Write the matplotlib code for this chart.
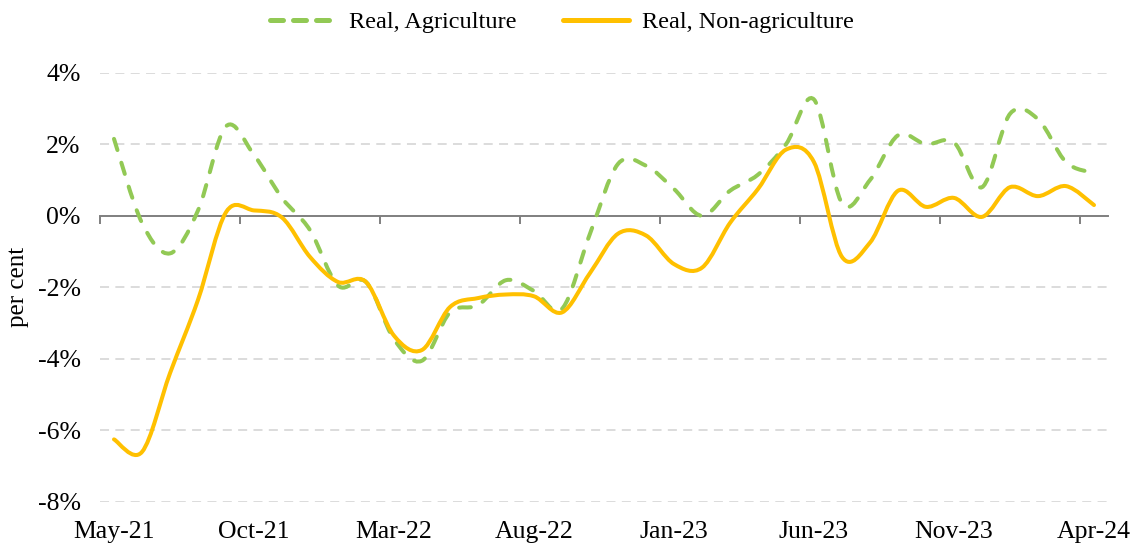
import matplotlib
matplotlib.use("Agg")
import matplotlib.pyplot as plt
import numpy as np
import pandas as pd
from matplotlib.path import Path
from matplotlib.patches import PathPatch
from matplotlib.lines import Line2D

plt.rcParams['font.family'] = ['Liberation Serif', 'DejaVu Serif']

# monthly data, May-21 .. Apr-24 (per cent, y/y)
months = pd.date_range('2021-05-01', periods=36, freq='MS').strftime('%b-%y').tolist()
agri = [2.15, -0.2, -1.05, 0.15, 2.5, 1.7, 0.5, -0.4, -1.95, -1.85,
        -3.45, -4.05, -2.7, -2.5, -1.8, -2.1, -2.6, -0.5, 1.45, 1.4,
        0.75, 0.0, 0.7, 1.15, 2.0, 3.25, 0.35, 1.0, 2.25, 2.0,
        2.05, 0.8, 2.85, 2.7, 1.5, 1.2]
nonagri = [-6.25, -6.6, -4.4, -2.35, 0.1, 0.15, -0.05, -1.15, -1.85, -1.85,
           -3.35, -3.75, -2.55, -2.3, -2.2, -2.25, -2.7, -1.6, -0.5, -0.55,
           -1.35, -1.45, -0.2, 0.75, 1.85, 1.5, -1.15, -0.75, 0.7, 0.25,
           0.5, -0.03, 0.8, 0.55, 0.83, 0.3]
yticks = [4, 2, 0, -2, -4, -6, -8]

GREEN = '#92C955'
GOLD = '#FFC000'
FS_TICK = 18.5
FS_LEG = 17.5


def smooth_path(xs, ys):
    # excel-like smoothed line: cubic bezier between points (catmull-rom)
    p = np.column_stack([xs, ys]).astype(float)
    n = len(p)
    verts = [p[0]]
    codes = [Path.MOVETO]
    for i in range(n - 1):
        p0 = p[i - 1] if i > 0 else p[i]
        p3 = p[i + 2] if i + 2 < n else p[i + 1]
        c1 = p[i] + (p[i + 1] - p0) / 6.0
        c2 = p[i + 1] - (p3 - p[i]) / 6.0
        verts += [c1, c2, p[i + 1]]
        codes += [Path.CURVE4] * 3
    return Path(verts, codes)


x = np.arange(len(months))

fig = plt.figure(figsize=(11.36, 5.44), dpi=100)
ax = fig.add_axes([100 / 1136, 1 - 502 / 544, 1008 / 1136, (502 - 72.7) / 544])

ax.set_xlim(-0.5, len(months) - 0.5)
ax.set_ylim(-8, 4)

# grid
for v in yticks:
    if v != 0:
        ax.axhline(v, color='#D9D9D9', lw=1.3, ls=(0, (5, 3.5)), zorder=0)

green_patch = PathPatch(smooth_path(x, agri), fill=False, edgecolor=GREEN,
                        lw=2.9, ls=(0, (2.9, 3.3)), capstyle='round', zorder=3)
gold_patch = PathPatch(smooth_path(x, nonagri), fill=False, edgecolor=GOLD,
                       lw=2.9, capstyle='round', joinstyle='round', zorder=4)
ax.add_patch(green_patch)
ax.add_patch(gold_patch)

# zero axis with tick marks between categories
for s in ['left', 'right', 'top']:
    ax.spines[s].set_visible(False)
ax.spines['bottom'].set_position(('data', 0))
ax.spines['bottom'].set_color('#7F7F7F')
ax.spines['bottom'].set_linewidth(1.4)
ax.set_xticks(np.arange(-0.5, len(months), 5))
ax.tick_params(axis='x', length=6, width=1.4, color='#7F7F7F', labelbottom=False)

sec = ax.secondary_xaxis('bottom')
sec.set_xticks(x[::5])
sec.set_xticklabels(months[::5])
sec.spines['bottom'].set_visible(False)
sec.tick_params(length=0, pad=14, labelsize=FS_TICK, labelcolor='#000000')

ax.set_yticks(yticks)
ax.set_yticklabels([f'{v}%' for v in yticks])
ax.tick_params(axis='y', length=0, pad=14, labelsize=FS_TICK)
ax.set_ylabel('per cent', fontsize=18)
ax.yaxis.set_label_coords(-71 / 1008, 0.5)

handles = [Line2D([], [], color=GREEN, lw=3.6, ls=(0, (2.6, 2.0)), dash_capstyle='round'),
           Line2D([], [], color=GOLD, lw=3.6, solid_capstyle='round')]
fig.legend(handles, ['Real, Agriculture', 'Real, Non-agriculture'], loc='center',
           bbox_to_anchor=(562 / 1136, 1 - 22 / 544), ncol=2, frameon=False,
           fontsize=FS_LEG, handlelength=2.7, handletextpad=0.55, columnspacing=1.9)

fig.savefig('out.png', dpi=100)
